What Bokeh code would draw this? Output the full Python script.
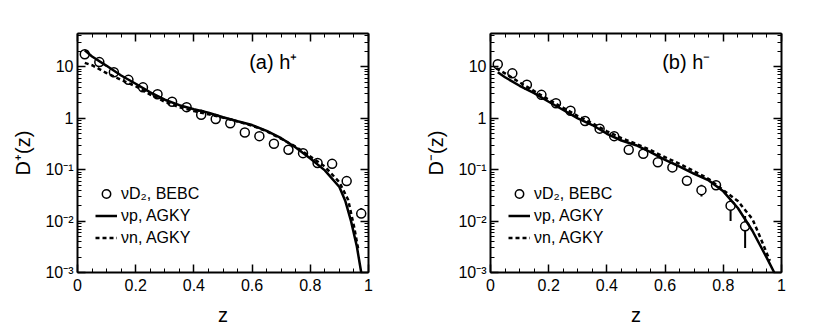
import numpy as np
from bokeh.plotting import figure
from bokeh.layouts import row
from bokeh.models import (Range1d, FixedTicker, LogAxis, LinearAxis, Legend,
                          LegendItem, Label, CustomJSTickFormatter)
from bokeh.embed import file_html
from bokeh.resources import INLINE

FONT = "Liberation Sans"

# ---------------- data ----------------
# BEBC nu D2 data, panel (a) h+
z_data_a = [0.025, 0.075, 0.125, 0.175, 0.225, 0.275, 0.325, 0.375, 0.425, 0.475,
            0.525, 0.575, 0.625, 0.675, 0.725, 0.775, 0.825, 0.875, 0.925, 0.975]
d_data_a = [17.6, 12.4, 7.9, 5.6, 4.0, 2.95, 2.1, 1.65, 1.17, 0.97,
            0.80, 0.53, 0.45, 0.32, 0.245, 0.21, 0.135, 0.13, 0.060, 0.014]
d_lo_a = [16.9, 11.9, 7.6, 5.4, 3.85, 2.83, 2.02, 1.58, 1.12, 0.93,
          0.77, 0.51, 0.43, 0.305, 0.232, 0.198, 0.124, 0.116, 0.052, 0.0117]
d_hi_a = [18.3, 12.9, 8.2, 5.8, 4.15, 3.07, 2.18, 1.72, 1.22, 1.01,
          0.83, 0.55, 0.47, 0.335, 0.258, 0.222, 0.146, 0.145, 0.068, 0.018]

# panel (b) h-
z_data_b = [0.025, 0.075, 0.125, 0.175, 0.225, 0.275, 0.325, 0.375, 0.425, 0.475,
            0.525, 0.575, 0.625, 0.675, 0.725, 0.775, 0.825, 0.875]
d_data_b = [11.3, 7.5, 4.5, 2.86, 1.97, 1.4, 0.89, 0.63, 0.45, 0.245,
            0.204, 0.14, 0.111, 0.061, 0.040, 0.050, 0.020, 0.0079]
d_lo_b = [10.8, 7.2, 4.3, 2.74, 1.88, 1.34, 0.85, 0.60, 0.43, 0.232,
          0.190, 0.128, 0.100, 0.055, 0.030, 0.042, 0.010, 0.003]
d_hi_b = [11.8, 7.8, 4.7, 2.98, 2.06, 1.46, 0.93, 0.66, 0.47, 0.258,
          0.218, 0.152, 0.122, 0.067, 0.051, 0.058, 0.027, 0.0126]

# AGKY curves, panel (a)
z_p_a = [0.025, 0.05, 0.1, 0.15, 0.2, 0.25, 0.3, 0.35, 0.4, 0.45, 0.5, 0.55, 0.6,
         0.65, 0.7, 0.75, 0.8, 0.85, 0.9, 0.92, 0.94, 0.96, 0.975]
d_p_a = [21.0, 16.0, 10.5, 6.8, 4.7, 3.2, 2.3, 1.8, 1.5, 1.28, 1.05, 0.88, 0.74,
         0.57, 0.41, 0.27, 0.165, 0.097, 0.046, 0.025, 0.010, 0.0032, 0.001]
z_n_a = [0.025, 0.05, 0.1, 0.15, 0.2, 0.25, 0.3, 0.35, 0.4, 0.45, 0.5, 0.55, 0.6,
         0.65, 0.7, 0.75, 0.8, 0.85, 0.9, 0.93, 0.95, 0.965]
d_n_a = [12.0, 10.8, 7.6, 5.6, 4.2, 2.9, 2.1, 1.65, 1.38, 1.2, 1.03, 0.87, 0.72,
         0.56, 0.40, 0.28, 0.18, 0.115, 0.057, 0.026, 0.008, 0.0028]

# AGKY curves, panel (b)
z_p_b = [0.025, 0.05, 0.1, 0.15, 0.2, 0.25, 0.3, 0.35, 0.4, 0.45, 0.5, 0.55, 0.6,
         0.65, 0.7, 0.75, 0.8, 0.85, 0.9, 0.95, 0.975]
d_p_b = [7.9, 6.3, 4.3, 3.1, 2.1, 1.45, 1.0, 0.74, 0.50, 0.37, 0.30, 0.22, 0.155,
         0.115, 0.083, 0.062, 0.038, 0.018, 0.0065, 0.0019, 0.001]
z_n_b = [0.02, 0.05, 0.1, 0.15, 0.2, 0.25, 0.3, 0.35, 0.4, 0.45, 0.5, 0.55, 0.6,
         0.65, 0.7, 0.75, 0.8, 0.85, 0.9, 0.93, 0.96]
d_n_b = [9.4, 7.5, 5.0, 3.4, 2.3, 1.6, 1.1, 0.8, 0.56, 0.41, 0.32, 0.24, 0.175,
         0.13, 0.093, 0.066, 0.040, 0.0245, 0.011, 0.0044, 0.0017]

x_tick_values = [0, 0.2, 0.4, 0.6, 0.8, 1]
x_tick_labels = ["0", "0.2", "0.4", "0.6", "0.8", "1"]
y_tick_values = [1e-3, 1e-2, 1e-1, 1, 10]
y_tick_labels = ["10\u207b\u00b3", "10\u207b\u00b2", "10\u207b\u00b9", "1", "10"]

legend_labels = ["\u03bdD\u2082, BEBC", "\u03bdp, AGKY", "\u03bdn, AGKY"]

x_minor = [round(v, 3) for v in np.arange(0.0, 1.0001, 0.05)]
y_minor = [m * 10.0 ** e for e in range(-3, 2) for m in range(2, 10)]


def style_axis(ax, labels=True):
    ax.axis_line_width = 2
    ax.axis_line_color = "black"
    ax.major_tick_in = 8
    ax.major_tick_out = 0
    ax.minor_tick_in = 4
    ax.minor_tick_out = 0
    ax.major_tick_line_color = "black"
    ax.minor_tick_line_color = "black"
    ax.major_tick_line_width = 1.5
    ax.minor_tick_line_width = 1
    ax.major_label_text_font = FONT
    ax.major_label_text_color = "black"
    ax.axis_label_text_font = FONT
    ax.axis_label_text_color = "black"
    ax.axis_label_text_font_style = "normal"
    ax.major_label_text_font_size = "16px"
    ax.axis_label_text_font_size = "20px"
    if not labels:
        ax.formatter = CustomJSTickFormatter(code="return '';")
        ax.major_label_standoff = 0


def panel(zd, dd, lo, hi, zp, dp, zn, dn, ylabel, title, bl, br):
    p = figure(frame_width=291, frame_height=239,
               x_range=Range1d(0, 1), y_range=Range1d(1e-3, 44.7),
               y_axis_type="log", output_backend="svg", toolbar_location=None,
               min_border_left=bl, min_border_right=br,
               min_border_top=33, min_border_bottom=48)
    p.background_fill_color = "white"
    p.border_fill_color = "white"
    p.outline_line_color = None
    p.xgrid.visible = False
    p.ygrid.visible = False

    p.xaxis.ticker = FixedTicker(ticks=x_tick_values, minor_ticks=x_minor)
    p.yaxis.ticker = FixedTicker(ticks=y_tick_values, minor_ticks=y_minor)
    p.xaxis.major_label_overrides = dict(zip(x_tick_values, x_tick_labels))
    p.yaxis.major_label_overrides = dict(zip(y_tick_values, y_tick_labels))
    p.xaxis.axis_label = "z"
    p.yaxis.axis_label = ylabel
    p.xaxis.axis_label_standoff = 10
    p.yaxis.axis_label_standoff = 8
    p.xaxis.major_label_standoff = 6
    p.yaxis.major_label_standoff = 4
    style_axis(p.xaxis[0])
    style_axis(p.yaxis[0])

    top = LinearAxis(ticker=FixedTicker(ticks=x_tick_values, minor_ticks=x_minor))
    right = LogAxis(ticker=FixedTicker(ticks=y_tick_values, minor_ticks=y_minor))
    style_axis(top, labels=False)
    style_axis(right, labels=False)
    p.add_layout(top, "above")
    p.add_layout(right, "right")

    p.segment(x0=zd, y0=lo, x1=zd, y1=hi, line_color="black", line_width=2)
    r_pts = p.scatter(zd, dd, marker="circle", size=9, fill_color="white",
                      line_color="black", line_width=1.5)
    r_p = p.line(zp, dp, line_color="black", line_width=2.5)
    r_n = p.line(zn, dn, line_color="black", line_width=2.5, line_dash="4 3")

    leg = Legend(items=[LegendItem(label=legend_labels[0], renderers=[r_pts]),
                        LegendItem(label=legend_labels[1], renderers=[r_p]),
                        LegendItem(label=legend_labels[2], renderers=[r_n])],
                 location=(17, 23))
    leg.background_fill_alpha = 0
    leg.border_line_alpha = 0
    leg.padding = 1
    leg.margin = 0
    leg.spacing = 1
    leg.glyph_width = 22
    leg.glyph_height = 21
    leg.label_height = 21
    leg.label_standoff = 4
    leg.label_text_font = FONT
    leg.label_text_font_size = "16px"
    leg.label_text_color = "black"
    p.add_layout(leg)

    p.add_layout(Label(x=0.59, y=12.5, text=title, text_font=FONT,
                       text_font_size="20px", text_baseline="middle",
                       text_color="black"))
    return p


pa = panel(z_data_a, d_data_a, d_lo_a, d_hi_a, z_p_a, d_p_a, z_n_a, d_n_a,
           "D\u207a(z)", "(a) h\u207a", 77, 48)
pb = panel(z_data_b, d_data_b, d_lo_b, d_hi_b, z_p_b, d_p_b, z_n_b, d_n_b,
           "D\u207b(z)", "(b) h\u207b", 74, 38)

layout = row(pa, pb)
open("out.html", "w").write(file_html(layout, INLINE))
